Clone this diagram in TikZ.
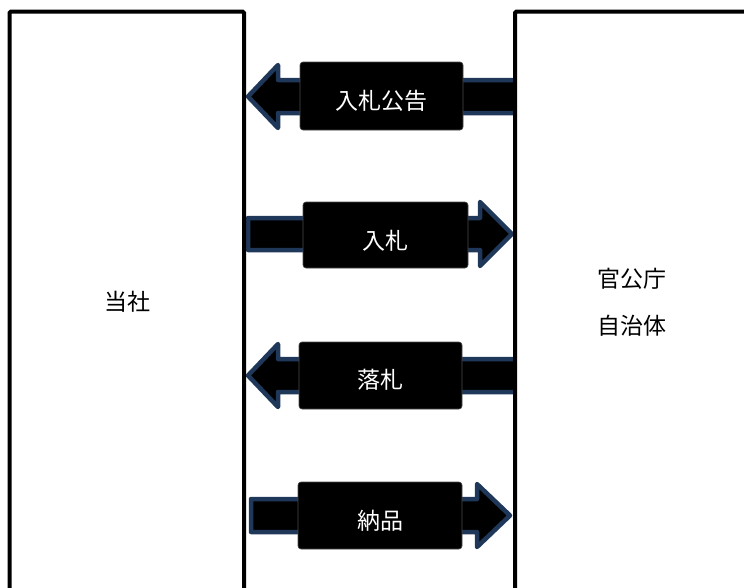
\documentclass[tikz,border=0pt]{standalone}
\usepackage{fontspec}
\setmainfont{Noto Sans CJK JP}
\definecolor{navy}{RGB}{31,56,90}
\begin{document}
\begin{tikzpicture}[x=1pt,y=-1pt,
  bigbox/.style={draw=black,line width=4pt,fill=white,rounded corners=1.5pt},
  blockarrow/.style={draw=navy,fill=black,line width=4.5pt,line join=round},
  labelbox/.style={fill=black,draw=black!70,line width=0.6pt,rounded corners=3pt,inner sep=0pt},
  labeltext/.style={text=white,font=\fontsize{23}{26}\selectfont,inner sep=0pt},
  boxtext/.style={font=\fontsize{23}{26}\selectfont,text=black}]
\useasboundingbox (0,0) rectangle (744,587);
% arrows (drawn first, under boxes)
\draw[blockarrow] (514,80) -- (278,80) -- (278,65) -- (248,96.5) -- (278,128) -- (278,113) -- (514,113);
\draw[blockarrow] (248,218) -- (480,218) -- (480,202) -- (512,234) -- (480,266) -- (480,250) -- (248,250) -- cycle;
\draw[blockarrow] (514,359) -- (278,359) -- (278,344) -- (248,375.5) -- (278,407) -- (278,392) -- (514,392);
\draw[blockarrow] (251,499) -- (477,499) -- (477,484) -- (510,515.5) -- (477,547) -- (477,532) -- (251,532) -- cycle;
% big boxes
\path[bigbox] (9.5,11.5) rectangle (244,620);
\path[bigbox] (515,11.5) rectangle (800,620);
\node[boxtext] (tousha) at (127,302) {当社};
\node[boxtext] (kan) at (632,279) {官公庁};
\node[boxtext] (jichi) at (632,326) {自治体};
% labels
\node[labelbox,minimum width=163pt,minimum height=68pt] (l1) at (381.5,96) {};
\node[labelbox,minimum width=165pt,minimum height=66pt] (l2) at (385.5,235) {};
\node[labelbox,minimum width=163pt,minimum height=67pt] (l3) at (380.5,375.5) {};
\node[labelbox,minimum width=164pt,minimum height=67pt] (l4) at (380,515.5) {};
\node[labeltext] (t1) at (381.5,101) {入札公告};
\node[labeltext] (t2) at (385.5,241) {入札};
\node[labeltext] (t3) at (380.5,380) {落札};
\node[labeltext] (t4) at (380,521) {納品};
\end{tikzpicture}
\end{document}
